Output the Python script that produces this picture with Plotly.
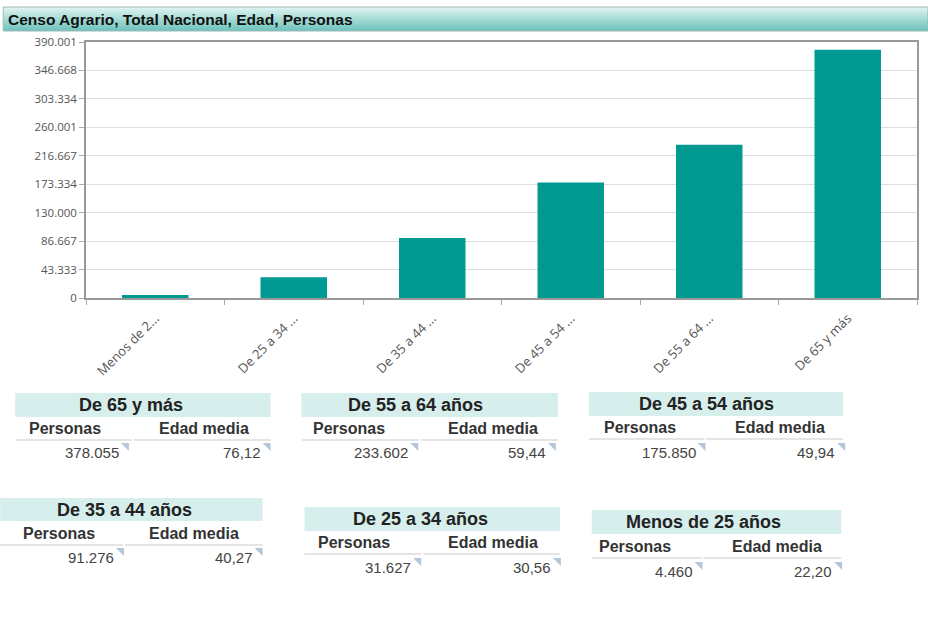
import plotly.graph_objects as go

# ---------------- data ----------------
categories = ["Menos de 25 años", "De 25 a 34 años", "De 35 a 44 años",
              "De 45 a 54 años", "De 55 a 64 años", "De 65 y más"]
tick_labels = ["Menos de 2...", "De 25 a 34 ...", "De 35 a 44 ...",
               "De 45 a 54 ...", "De 55 a 64 ...", "De 65 y más"]
personas = [4460, 31627, 91276, 175850, 233602, 378055]
edad_media = [22.20, 30.56, 40.27, 49.94, 59.44, 76.12]
y_tickvals = [0, 43333, 86667, 130000, 173334, 216667, 260001, 303334, 346668, 390001]
y_ticktext = ["0", "43.333", "86.667", "130.000", "173.334", "216.667",
              "260.001", "303.334", "346.668", "390.001"]
title_text = "Censo Agrario, Total Nacional, Edad, Personas"
col_personas = "Personas"
col_edad = "Edad media"

# ---------------- layout helpers ----------------
W, H = 928, 621
L, R, T, B = 86, 919, 42, 298


def px(x):
    return (x - L) / (R - L)


def py(y):
    return (B - y) / (B - T)


def fmt_int(v):
    return f"{v:,}".replace(",", ".")


def fmt_dec(v):
    return f"{v:.2f}".replace(".", ",")


BAR = "#009a93"

fig = go.Figure()
fig.add_trace(go.Bar(x=categories, y=personas, marker=dict(color=BAR, line=dict(width=0)),
                     hoverinfo="x+y"))

shapes = []
annotations = []

# title bar with vertical gradient
top_c = (222, 243, 241)
bot_c = (110, 196, 187)
y0, y1 = 7, 31
n = y1 - y0
for i in range(n):
    t = i / (n - 1)
    c = tuple(int(round(top_c[k] + (bot_c[k] - top_c[k]) * t)) for k in range(3))
    shapes.append(dict(type="rect", xref="paper", yref="paper",
                       x0=px(3), x1=px(W + 2), y0=py(y0 + i), y1=py(y0 + i + 1),
                       fillcolor=f"rgb{c}", line=dict(width=0), layer="above"))
shapes.append(dict(type="rect", xref="paper", yref="paper",
                   x0=px(3), x1=px(W + 2), y0=py(y0), y1=py(y1),
                   fillcolor="rgba(0,0,0,0)", line=dict(color="#9fb9b7", width=1)))
annotations.append(dict(text=f"<b>{title_text}</b>", xref="paper", yref="paper",
                        x=px(6), y=py(19), xanchor="left", yanchor="middle", showarrow=False,
                        font=dict(family="Liberation Sans, Arial", size=15.5, color="#111")))

# summary tables: (category index, box x0, x1, y0, y1, title cx, cy, pers x, edad x,
#                  sub y, line y, split x, val1 right, val2 right, val y)
tables = [
    (5, 15, 271, 393, 417, 131, 405, 27, 157, 428, 440, 133, 120, 262, 452),
    (4, 302, 559, 393, 417, 416, 405, 312, 447, 428, 440, 421, 410, 548, 452),
    (3, 590, 845, 392, 416, 708, 404, 603, 735, 427, 439, 707, 698, 838, 452),
    (2, 0, 263, 498, 521, 125, 510, 21, 147, 533, 545, 124, 115, 254, 557),
    (1, 305, 561, 507, 531, 421, 519, 317, 447, 542, 554, 423, 413, 553, 567),
    (0, 593, 843, 510, 534, 705, 522, 598, 732, 546, 558, 704, 695, 835, 571),
]
FONT = "Liberation Sans, Arial"
for (ci, bx0, bx1, by0, by1, cx, cy, pxp, pxe, sy, ly, sx, v1, v2, vy) in tables:
    shapes.append(dict(type="rect", xref="paper", yref="paper",
                       x0=px(bx0), x1=px(bx1), y0=py(by0), y1=py(by1),
                       fillcolor="#d6eeec", line=dict(width=0)))
    annotations.append(dict(text=f"<b>{categories[ci]}</b>", xref="paper", yref="paper",
                            x=px(cx), y=py(cy), xanchor="center", yanchor="middle",
                            showarrow=False, font=dict(family=FONT, size=18, color="#222")))
    annotations.append(dict(text=f"<b>{col_personas}</b>", xref="paper", yref="paper",
                            x=px(pxp), y=py(sy), xanchor="left", yanchor="middle",
                            showarrow=False, font=dict(family=FONT, size=16, color="#333")))
    annotations.append(dict(text=f"<b>{col_edad}</b>", xref="paper", yref="paper",
                            x=px(pxe), y=py(sy), xanchor="left", yanchor="middle",
                            showarrow=False, font=dict(family=FONT, size=16, color="#333")))
    for a, b in ((bx0, sx - 1), (sx + 1, bx1)):
        shapes.append(dict(type="line", xref="paper", yref="paper",
                           x0=px(a), x1=px(b), y0=py(ly), y1=py(ly),
                           line=dict(color="#dcdcdc", width=1.5)))
    for xr, txt in ((v1, fmt_int(personas[ci])), (v2, fmt_dec(edad_media[ci]))):
        annotations.append(dict(text=txt, xref="paper", yref="paper",
                                x=px(xr + 1), y=py(vy), xanchor="right", yanchor="middle",
                                showarrow=False, font=dict(family=FONT, size=15, color="#444")))
        ix0, ix1, iy0, iy1 = xr + 1, xr + 9, vy - 9, vy - 1
        shapes.append(dict(type="path", xref="paper", yref="paper",
                           path=f"M {px(ix0)},{py(iy0)} L {px(ix1)},{py(iy0)} L {px(ix1)},{py(iy1)} Z",
                           fillcolor="#b3c6da", line=dict(width=0)))

fig.update_layout(
    width=W, height=H,
    margin=dict(l=L, r=W - R, t=T, b=H - B, pad=0),
    paper_bgcolor="white", plot_bgcolor="white",
    showlegend=False, bargap=0.52,
    font=dict(family="Open Sans, sans-serif", color="#555"),
    shapes=shapes, annotations=annotations,
)
fig.update_xaxes(
    type="category", tickvals=categories, ticktext=tick_labels, tickangle=-45,
    tickson="boundaries", ticks="outside", ticklen=5, tickcolor="#aaa",
    ticklabelstandoff=6,
    showline=True, linecolor="#999", linewidth=1.5, mirror=True,
    showgrid=False, tickfont=dict(size=13, color="#555"),
)
fig.update_yaxes(
    range=[0, 390001], tickvals=y_tickvals, ticktext=y_ticktext,
    ticks="outside", ticklen=5, tickcolor="#aaa",
    showline=True, linecolor="#999", linewidth=1.5, mirror=True,
    showgrid=True, gridcolor="#dedede", gridwidth=1, zeroline=False,
    tickfont=dict(size=11.5, color="#555"),
)

fig.write_html("out.html", config={"displayModeBar": False},
               post_script="document.body.style.margin='0';document.body.style.overflow='hidden';")
